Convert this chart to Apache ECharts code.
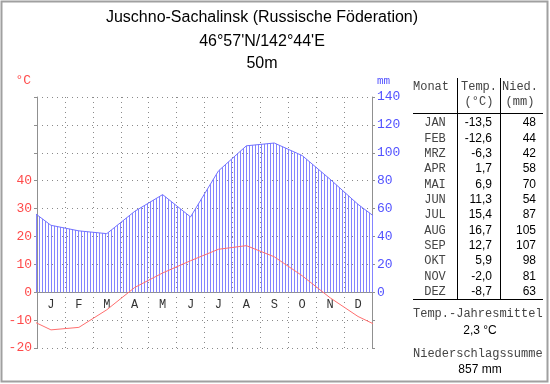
<!DOCTYPE html>
<html>
<head>
<meta charset="utf-8">
<script src="https://cdn.jsdelivr.net/npm/echarts@6/dist/echarts.min.js"></script>
<style>
html,body{margin:0;padding:0;background:#fff;}
#c{width:550px;height:384px;}
</style>
</head>
<body>
<div id="c"></div>
<script>
// ---- data ----
const axisMonths = ['J','F','M','A','M','J','J','A','S','O','N','D'];
const tableMonths = ['JAN','FEB','MRZ','APR','MAI','JUN','JUL','AUG','SEP','OKT','NOV','DEZ'];
const temps = [-13.5,-12.6,-6.3,1.7,6.9,11.3,15.4,16.7,12.7,5.9,-2.0,-8.7];
const precip = [48,44,42,58,70,54,87,105,107,98,81,63];
const titleLines = ['Juschno-Sachalinsk (Russische Föderation)', "46°57'N/142°44'E", '50m'];

// ---- helpers ----
const RED = '#ff4a4a', REDLINE = '#ff6e6e', BLUE = '#5252ff', BLUELINE = '#7272ff', HATCH = '#8484ff';
const MONO = '"Liberation Mono", "DejaVu Sans Mono", monospace';
const SANS = '"Liberation Sans", Arial, sans-serif';

const GRID = {left:37, top:97, width:335, height:251};
const T_MIN = -20, T_MAX = 70;

function wrapSeries(vals) {
  const n = vals.length;
  const d = [[-0.5, vals[n - 1]]];
  vals.forEach((v, i) => d.push([i + 0.5, v]));
  d.push([n + 0.5, vals[0]]);
  return d;
}
const fmt1 = v => v.toFixed(1).replace('.', ',');
const meanT = temps.reduce((a, b) => a + b, 0) / temps.length;
const sumP = precip.reduce((a, b) => a + b, 0);

// hatch pattern
const pc = document.createElement('canvas');
pc.width = 3; pc.height = 4;
const pctx = pc.getContext('2d');
pctx.fillStyle = HATCH;
pctx.fillRect(0, 0, 1, 4);

// ---- graphics (frame, title, table) ----
const g = [];
g.push({type:'rect', shape:{x:1.5, y:1.5, width:546, height:380}, style:{fill:null, stroke:'#a0a0a0', lineWidth:2}, silent:true});
const titleY = [18, 42, 64];
titleLines.forEach((t, i) => g.push({type:'text', style:{text:t, x:262, y:titleY[i], font:'16px ' + SANS, fill:'#000', align:'center', verticalAlign:'middle'}}));

// table lines
g.push({type:'line', shape:{x1:457.5, y1:78, x2:457.5, y2:299}, style:{stroke:'#000', lineWidth:1}});
g.push({type:'line', shape:{x1:500.5, y1:78, x2:500.5, y2:299}, style:{stroke:'#000', lineWidth:1}});
g.push({type:'line', shape:{x1:413, y1:113.5, x2:543, y2:113.5}, style:{stroke:'#000', lineWidth:1}});
g.push({type:'line', shape:{x1:413, y1:299.5, x2:543, y2:299.5}, style:{stroke:'#000', lineWidth:1}});

const hdr = (t, x, y, al) => g.push({type:'text', style:{text:t, x:x, y:y, font:'12px ' + MONO, fill:'#444', align:al || 'center', verticalAlign:'middle'}});
hdr('Monat', 413, 87, 'left');
hdr('Temp.', 479, 87);
hdr('(°C)', 479, 102);
hdr('Nied.', 520, 87);
hdr('(mm)', 520, 102);
tableMonths.forEach((m, i) => {
  const y = 123 + i * 15.35;
  hdr(m, 435, y);
  g.push({type:'text', style:{text:fmt1(temps[i]), x:492, y:y, font:'12px ' + SANS, fill:'#000', align:'right', verticalAlign:'middle'}});
  g.push({type:'text', style:{text:String(precip[i]), x:536, y:y, font:'12px ' + SANS, fill:'#000', align:'right', verticalAlign:'middle'}});
});
hdr('Temp.-Jahresmittel', 413, 314, 'left');
g.push({type:'text', style:{text:fmt1(meanT) + ' °C', x:480, y:331, font:'12px ' + SANS, fill:'#000', align:'center', verticalAlign:'middle'}});
hdr('Niederschlagssumme', 413, 354, 'left');
g.push({type:'text', style:{text:sumP + ' mm', x:480, y:370, font:'12px ' + SANS, fill:'#000', align:'center', verticalAlign:'middle'}});

const chart = echarts.init(document.getElementById('c'), null, {renderer:'canvas'});
const dotted = {color:'#8a8a8a', width:1, type:[1, 4]};
// month axis sits on the 0 °C line
const zeroOffset = -GRID.height * (0 - T_MIN) / (T_MAX - T_MIN);
chart.setOption({
  animation:false,
  backgroundColor:'#fff',
  grid:Object.assign({containLabel:false}, GRID),
  xAxis:[
    {type:'category', data:axisMonths, boundaryGap:true, position:'bottom', offset:zeroOffset,
     axisLine:{show:true, onZero:false, lineStyle:{color:'#909090', width:1}},
     axisTick:{show:false},
     axisLabel:{color:'#333', fontFamily:MONO, fontSize:12, margin:7, interval:0},
     splitLine:{show:false}},
    {type:'value', min:0, max:12, interval:1, show:true, position:'top',
     axisLine:{show:false}, axisTick:{show:false}, axisLabel:{show:false},
     splitLine:{show:true, lineStyle:dotted}}
  ],
  yAxis:[
    {type:'value', min:T_MIN, max:T_MAX, interval:10, position:'left',
     name:'°C', nameLocation:'end', nameGap:10,
     nameTextStyle:{color:RED, fontFamily:MONO, fontSize:13, align:'right', padding:[0, 6, 0, 0]},
     axisLine:{show:true, lineStyle:{color:'#909090'}},
     axisTick:{show:true, length:3, lineStyle:{color:'#909090'}},
     axisLabel:{color:RED, fontFamily:MONO, fontSize:13, margin:5, formatter:v => v <= 40 ? String(v) : ''},
     splitLine:{show:true, lineStyle:dotted}},
    {type:'value', min:-40, max:140, interval:20, position:'right',
     name:'mm', nameLocation:'end', nameGap:10,
     nameTextStyle:{color:BLUE, fontFamily:MONO, fontSize:11, align:'left', padding:[0, 0, 0, 5]},
     axisLine:{show:true, lineStyle:{color:'#909090'}},
     axisTick:{show:true, length:3, lineStyle:{color:'#909090'}},
     axisLabel:{color:BLUE, fontFamily:MONO, fontSize:13, margin:5, formatter:v => v >= 0 ? String(v) : ''},
     splitLine:{show:false}}
  ],
  series:[
    {type:'line', xAxisIndex:1, yAxisIndex:1, data:wrapSeries(precip), symbol:'none', clip:true,
     lineStyle:{color:BLUELINE, width:1}, areaStyle:{color:{image:pc, repeat:'repeat'}, opacity:1}, z:2},
    {type:'line', xAxisIndex:1, yAxisIndex:0, data:wrapSeries(temps), symbol:'none', clip:true,
     lineStyle:{color:REDLINE, width:1}, z:3}
  ],
  graphic:g
});
</script>
</body>
</html>
